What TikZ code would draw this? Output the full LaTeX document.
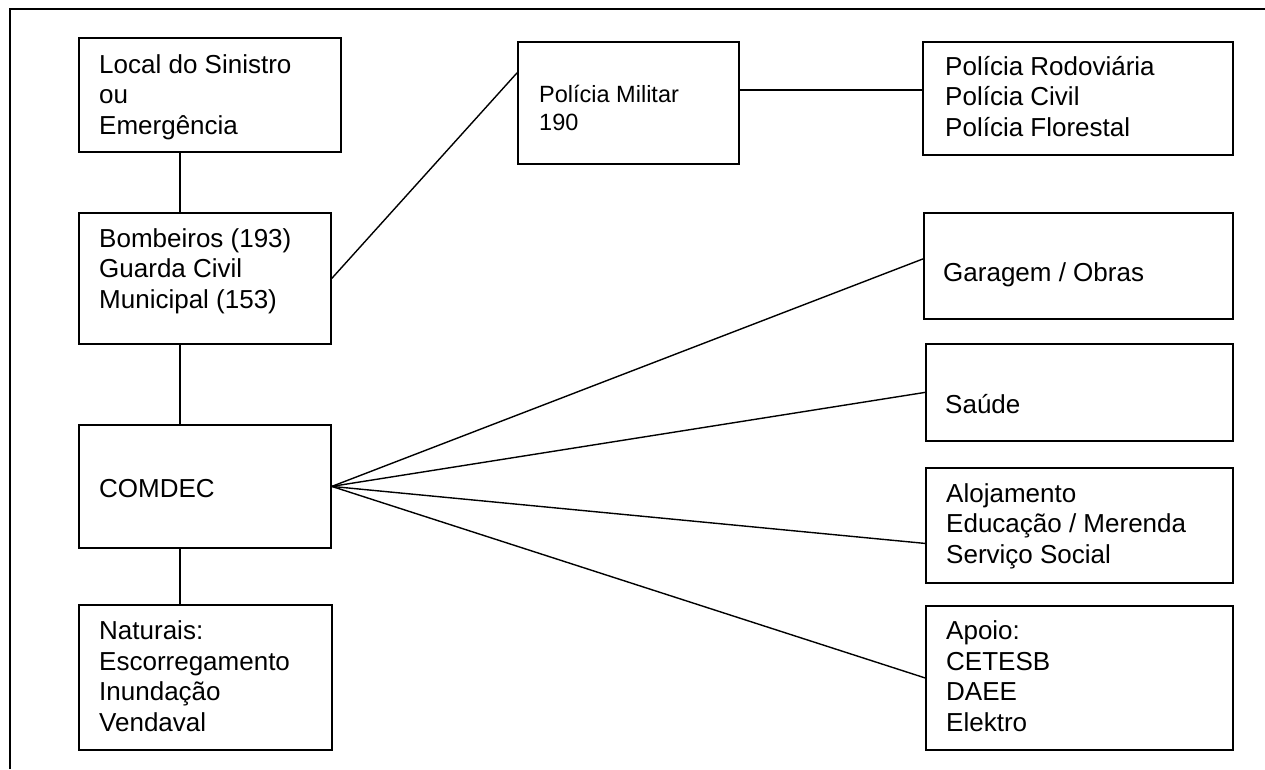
\documentclass[tikz,border=0pt]{standalone}
\usepackage{fontspec}
\setmainfont{Liberation Sans}
\usetikzlibrary{calc}

\tikzset{
  frame/.style={line width=1.8pt},
  box/.style={draw, rectangle, line width=1.8pt, inner sep=0pt, anchor=north west},
  link/.style={line width=1.4pt},
  % base anchor = baseline of the last line
  txt/.style={anchor=base west, align=left, inner sep=0pt,
    font=\fontsize{26}{30.5}\selectfont},
  small/.style={font=\fontsize{23.5}{28}\selectfont},
}

\begin{document}
\begin{tikzpicture}[x=1pt, y=-1pt]
    \useasboundingbox (0,0) rectangle (1265,769);
    \draw [frame] (10,769) -- (10,9) -- (1265,9);

    % left column
    \node [box, minimum width=262pt, minimum height=114pt] (local) at (78,37) {};
    \node [box, minimum width=252pt, minimum height=131pt] (bomb) at (78,212) {};
    \node [box, minimum width=252pt, minimum height=123pt] (comdec) at (78,424) {};
    \node [box, minimum width=253pt, minimum height=145pt] (nat) at (78,604) {};

    % top row
    \node [box, minimum width=221pt, minimum height=122pt] (pm) at (517,41) {};
    \node [box, minimum width=310pt, minimum height=113pt] (pr) at (922,41) {};

    % right column
    \node [box, minimum width=309pt, minimum height=106pt] (gar) at (923,212) {};
    \node [box, minimum width=307pt, minimum height=97pt] (saude) at (925,343) {};
    \node [box, minimum width=307pt, minimum height=115pt] (aloj) at (925,467) {};
    \node [box, minimum width=307pt, minimum height=144pt] (apoio) at (925,605) {};

    % texts
    \node [txt] (local-t) at (99,134) {Local do Sinistro\\ou\\Emergência};
    \node [txt] (bomb-t) at (99,308) {Bombeiros (193)\\Guarda Civil\\Municipal (153)};
    \node [txt] (comdec-t) at (99,497) {COMDEC};
    \node [txt] (nat-t) at (99,731) {Naturais:\\Escorregamento\\Inundação\\Vendaval};
    \node [txt, small] (pm-t) at (539,130) {Polícia Militar\\190};
    \node [txt] (pr-t) at (945,136) {Polícia Rodoviária\\Polícia Civil\\Polícia Florestal};
    \node [txt] (gar-t) at (943,281) {Garagem / Obras};
    \node [txt] (saude-t) at (945,413) {Saúde};
    \node [txt] (aloj-t) at (946,563) {Alojamento\\Educação / Merenda\\Serviço Social};
    \node [txt] (apoio-t) at (946,731) {Apoio:\\CETESB\\DAEE\\Elektro};

    % connectors
    \coordinate (spine) at (180,0);
    \draw [link] (local.south -| spine) -- (bomb.north -| spine);
    \draw [link] (bomb.south -| spine) -- (comdec.north -| spine);
    \draw [link] (comdec.south -| spine) -- (nat.north -| spine);
    \draw [link] (bomb.east) -- ($(pm.west)+(0,-30)$);
    \draw [link] ($(pm.east)+(0,-13)$) coordinate (pmr) -- (pmr -| pr.west);
    \draw [link] (comdec.east) -- ($(gar.west)+(0,-7)$);
    \draw [link] (comdec.east) -- (saude.west);
    \draw [link] (comdec.east) -- ($(aloj.west)+(0,18)$);
    \draw [link] (comdec.east) -- (apoio.west);
\end{tikzpicture}
\end{document}
